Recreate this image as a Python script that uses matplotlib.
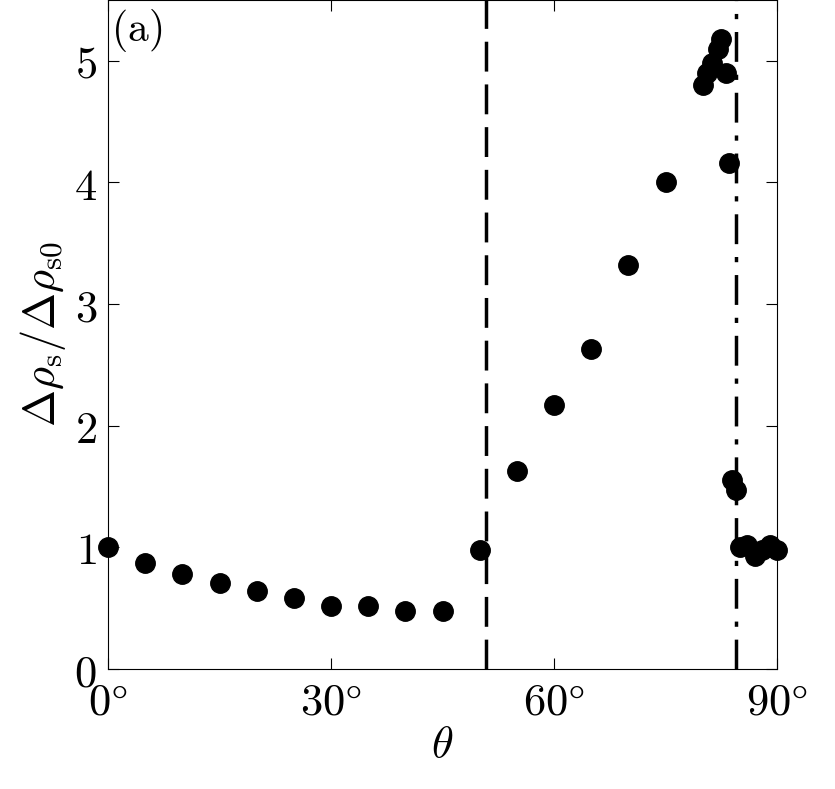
import matplotlib
matplotlib.use('Agg')
import matplotlib.pyplot as plt

plt.rcParams['mathtext.fontset'] = 'cm'
plt.rcParams['font.family'] = 'serif'
plt.rcParams['font.serif'] = ['DejaVu Serif']

theta = [0, 5, 10, 15, 20, 25, 30, 35, 40, 45, 50, 55, 60, 65, 70, 75,
         80, 80.6, 81.3, 82, 82.5, 83.1, 83.6, 84, 84.5,
         85, 86, 87, 88, 89, 90]
ratio = [1.0, 0.87, 0.78, 0.71, 0.64, 0.58, 0.52, 0.52, 0.48, 0.48, 0.98, 1.63, 2.17, 2.63, 3.32, 4.0,
         4.80, 4.90, 4.98, 5.10, 5.18, 4.90, 4.16, 1.55, 1.47,
         1.0, 1.02, 0.93, 0.98, 1.02, 0.98]
dashed_x = 50.9
dashdot_x = 84.5

fig = plt.figure(figsize=(8.35, 7.89), dpi=100)
ax = fig.add_axes([108/835, 1 - 669/789, 669/835, 669/789])

ax.plot(theta, ratio, 'o', color='black', markersize=14, clip_on=False, zorder=3)
ax.axvline(dashed_x, color='black', lw=2.5, dashes=(8.6, 3.7))
ax.axvline(dashdot_x, color='black', lw=2.5, dashes=(8.6, 3.7, 1.5, 3.7))

ax.set_xlim(0, 90)
ax.set_ylim(0, 5.5)
ax.set_xticks([0, 30, 60, 90])
ax.set_xticklabels([r'$0\degree$', r'$30\degree$', r'$60\degree$', r'$90\degree$'])
ax.set_yticks([0, 1, 2, 3, 4, 5])
ax.set_yticklabels([f'${v}$' for v in range(6)])
ax.tick_params(direction='in', top=True, right=True, labelsize=32, length=8, pad=8)
ax.set_xlabel(r'$\theta$', fontsize=32, labelpad=0)
ax.set_ylabel(r'$\Delta\rho_{\rm s}/\Delta\rho_{\rm s0}$', fontsize=32)
ax.text(0.005, 0.99, r'$\rm (a)$', transform=ax.transAxes, fontsize=30, va='top', ha='left')

fig.savefig('out.png', dpi=100)
